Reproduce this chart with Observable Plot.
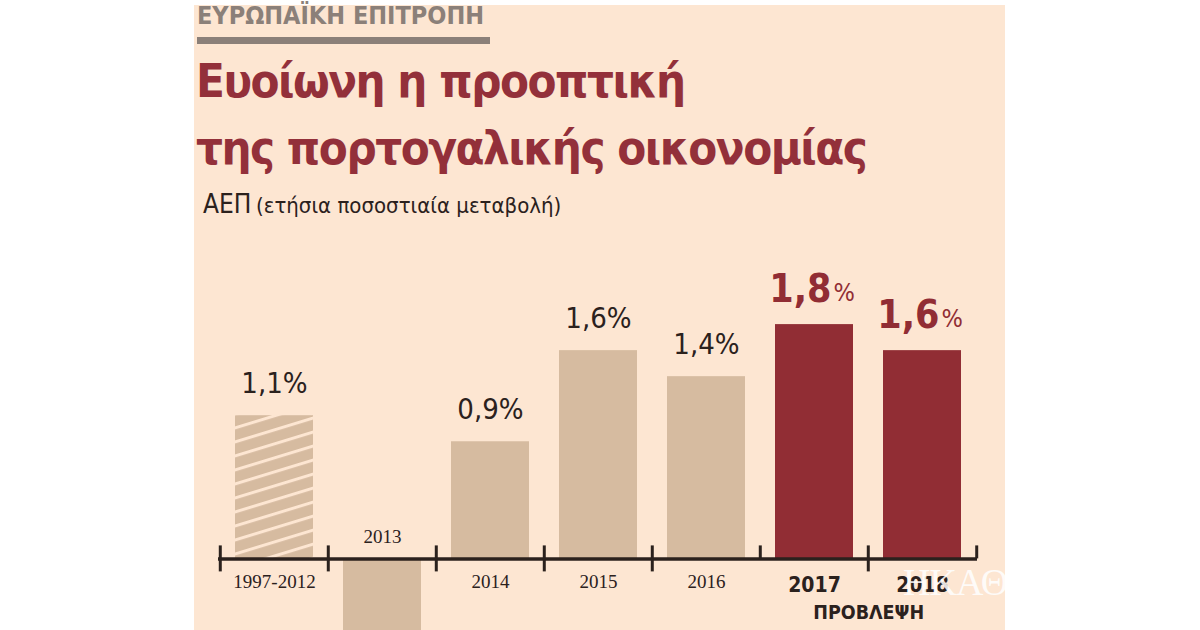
<!DOCTYPE html>
<html><head><meta charset="utf-8">
<script src="https://cdn.jsdelivr.net/npm/d3@7"></script>
<script src="https://cdn.jsdelivr.net/npm/@observablehq/plot@0.6"></script>
<style>
html,body{margin:0;padding:0;width:1200px;height:630px;overflow:hidden;background:#fff;}
#panel{position:absolute;left:194px;top:5px;width:811px;height:625px;background:#fde6d2;}
.cond{font-family:"DejaVu Sans Condensed","DejaVu Sans",sans-serif;font-stretch:condensed;}
#kicker{position:absolute;left:197px;top:2px;font-size:25px;line-height:28px;font-weight:bold;color:#8b8079;white-space:nowrap;}
#kbar{position:absolute;left:197px;top:37px;width:293px;height:7px;background:#8b8079;}
#title{position:absolute;left:196px;top:47px;font-size:47px;line-height:67px;font-weight:bold;color:#93303a;white-space:nowrap;letter-spacing:-1.5px;}
#sub{position:absolute;left:203px;top:189px;white-space:nowrap;color:#2b211d;}
#sub .a{font-size:26px;}
#sub .b{font-size:22px;}
#chart{position:absolute;left:0;top:246px;}
#wm{position:absolute;left:903px;top:560px;font-family:"Liberation Serif",serif;font-size:38px;color:#fff;opacity:0.85;white-space:nowrap;letter-spacing:-1px;}
</style></head>
<body>
<div id="panel"></div>
<div id="kicker" class="cond">ΕΥΡΩΠΑΪΚΗ ΕΠΙΤΡΟΠΗ</div>
<div id="kbar"></div>
<div id="title" class="cond">Ευοίωνη η προοπτική<br>της πορτογαλικής οικονομίας</div>
<div id="sub" class="cond"><span class="a">ΑΕΠ</span> <span class="b">(ετήσια ποσοστιαία μεταβολή)</span></div>
<div id="chart"></div>
<div id="wm">ΗΚΑΘ</div>
<script>
const categories = ["1997-2012", "2013", "2014", "2015", "2016", "2017", "2018"];
const growth = [1.1, -1.1, 0.9, 1.6, 1.4, 1.8, 1.6];
const isForecast = [false, false, false, false, false, true, true];
const isAverage = [true, false, false, false, false, false, false];
const forecastLabel = "ΠΡΟΒΛΕΨΗ";

const fmt = v => v.toFixed(1).replace(".", ",");
const data = categories.map((c, i) => ({cat: c, value: growth[i], forecast: isForecast[i], average: isAverage[i]}));

const W = 1200, H = 384, mL = 218, mR = 223;
const step = (W - mL - mR) / categories.length;

const tan = "#d6bba0", red = "#912d34", ink = "#2b211d";
const condFont = '"DejaVu Sans Condensed","DejaVu Sans",sans-serif';

const past = data.filter(d => !d.forecast);
const fut = data.filter(d => d.forecast);
const firstFut = fut[0];

const plot = Plot.plot({
  width: W, height: H,
  marginLeft: mL, marginRight: mR, marginTop: 0, marginBottom: 0,
  style: {background: "transparent", overflow: "visible"},
  x: {type: "band", domain: categories, paddingInner: 0.28, paddingOuter: 0.14, axis: null},
  y: {domain: [-0.55, 2.4], axis: null},
  marks: [
    Plot.barY(past.filter(d => !d.average), {x: "cat", y: "value", fill: tan}),
    Plot.barY(past.filter(d => d.average), {x: "cat", y: "value", fill: "url(#hatch)"}),
    Plot.barY(fut, {x: "cat", y: "value", fill: red}),
    Plot.ruleY([0], {stroke: ink, strokeWidth: 3.5}),
    // short separators
    Plot.ruleX(data.filter(d => d !== firstFut), {x: "cat", y1: 0, y2: 0, dx: -step / 2, insetTop: -13, insetBottom: -13, stroke: ink, strokeWidth: 3}),
    // long brackets around the forecast
    Plot.ruleX([firstFut], {x: "cat", y1: 0, dx: -step / 2, insetTop: -13, stroke: ink, strokeWidth: 3}),
    Plot.ruleX([fut[fut.length - 1]], {x: "cat", y1: 0, dx: step / 2, insetTop: -13, stroke: ink, strokeWidth: 3}),
    // value labels
    Plot.text(past.filter(d => d.value > 0), {x: "cat", y: "value", text: d => fmt(d.value) + "%", lineAnchor: "bottom", dy: -23, fontSize: 29, fill: ink, fontFamily: condFont}),
    Plot.text(fut, {x: "cat", y: "value", text: d => fmt(d.value), textAnchor: "end", lineAnchor: "bottom", dy: -23, dx: 17, fontSize: 39, fontWeight: "bold", fill: red, fontFamily: condFont}),
    Plot.text(fut, {x: "cat", y: "value", text: () => "%", textAnchor: "start", lineAnchor: "bottom", dy: -24, dx: 19, fontSize: 25, fill: red, fontFamily: condFont}),
    // category labels
    Plot.text(past.filter(d => d.value >= 0), {x: "cat", y: 0, text: "cat", lineAnchor: "bottom", dy: 29, fontSize: 19, fill: ink, fontFamily: '"Liberation Serif",serif'}),
    Plot.text(past.filter(d => d.value < 0), {x: "cat", y: 0, text: "cat", lineAnchor: "bottom", dy: -16, fontSize: 19, fill: ink, fontFamily: '"Liberation Serif",serif'}),
    Plot.text(fut, {x: "cat", y: 0, text: "cat", lineAnchor: "bottom", dy: 33, fontSize: 21, fontWeight: "bold", fill: ink, fontFamily: condFont}),
    Plot.text([firstFut], {x: "cat", y: 0, text: () => forecastLabel, lineAnchor: "bottom", dx: step / 2, dy: 60, fontSize: 19.5, fontWeight: "bold", fill: ink, fontFamily: condFont})
  ]
});

const svg = d3.select(plot);
const defs = svg.insert("defs", ":first-child");
const pat = defs.append("pattern").attr("id", "hatch").attr("patternUnits", "userSpaceOnUse")
  .attr("width", 20).attr("height", 13.4).attr("patternTransform", "rotate(-17)");
pat.append("rect").attr("width", 20).attr("height", 13.4).attr("fill", tan);
pat.append("rect").attr("y", 0).attr("width", 20).attr("height", 3).attr("fill", "#fde6d2");
document.getElementById("chart").appendChild(plot);
</script>
</body></html>
